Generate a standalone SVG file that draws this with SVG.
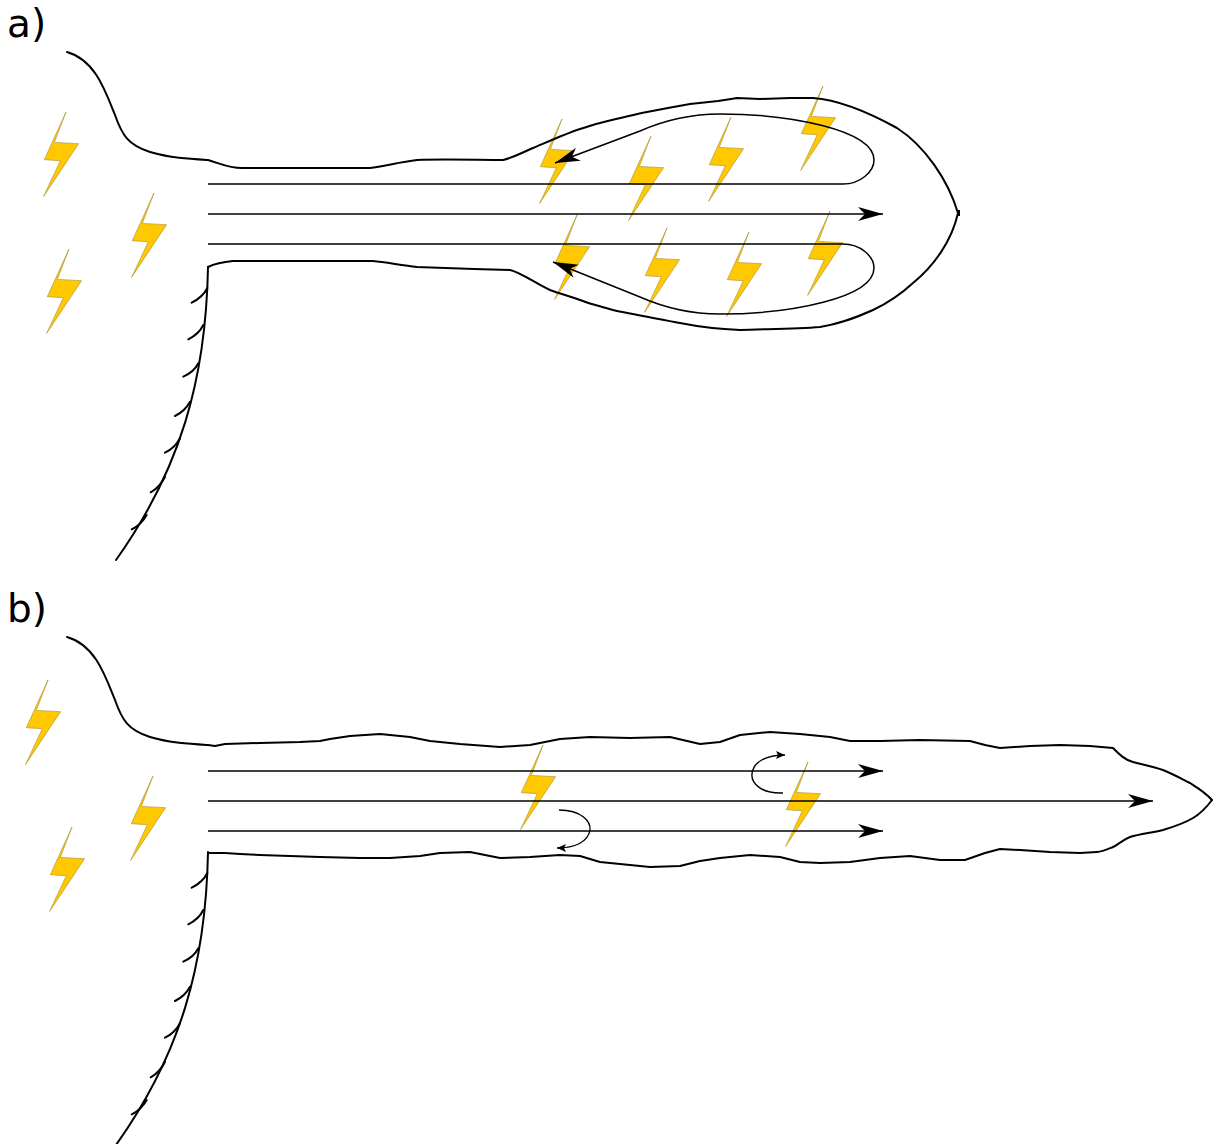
<svg xmlns="http://www.w3.org/2000/svg" width="1213" height="1144" viewBox="0 0 1213 1144">
  <style>
    .label { font-family: "DejaVu Sans", sans-serif; font-size: 39px; fill: #000; }
    .outline { fill: none; stroke: #000; stroke-width: 2; stroke-linejoin: round; stroke-linecap: round; }
    .flow { fill: none; stroke: #000; stroke-width: 1.5; }
    .curl { fill: none; stroke: #000; stroke-width: 1.4; }
    .bolt { fill: #ffc800; stroke: #b39a3c; stroke-width: 0.7; stroke-linejoin: miter; }
  </style>
  <defs>
    <!-- lightning bolt, anchored at its top tip -->
    <path id="bolt" d="M0,0 L-21.7,47.7 L-5.7,48.7 L-22.4,84.4 L12.6,31.7 L-11.7,30.4 Z"/>
    <marker id="stealth" markerUnits="userSpaceOnUse" viewBox="-26 -8 27 16" refX="0" refY="0" markerWidth="27" markerHeight="16" orient="auto">
      <path d="M0,0 L-25,-7 L-18,0 L-25,7 Z" fill="#000"/>
    </marker>
    <marker id="small" markerUnits="userSpaceOnUse" viewBox="-10 -5 11 10" refX="0" refY="0" markerWidth="11" markerHeight="10" orient="auto">
      <path d="M0,0 L-9,-4 L-7,0 L-9,4 Z" fill="#000"/>
    </marker>
    <!-- wall with barbs -->
    <g id="wall">
      <path class="outline" d="M208,267 C206,380 180,470 116,560"/>
      <path class="outline" d="M207.3,288 Q203,297 191.7,302.7"/>
      <path class="outline" d="M203.3,325 Q199,334 188.3,339.3"/>
      <path class="outline" d="M198.3,363.3 Q194,372 183.3,376.7"/>
      <path class="outline" d="M190,401.7 Q185,411 175,416"/>
      <path class="outline" d="M180,438.3 Q175,448 165,452.7"/>
      <path class="outline" d="M165,476.7 Q160,487 150.7,492.3"/>
      <path class="outline" d="M146.7,515 Q141,525 131.7,529.3"/>
    </g>
  </defs>

  <text class="label" x="7" y="37">a)</text>
  <text class="label" x="7" y="622">b)</text>

  <!-- a) lightning -->
  <g id="bolts-a">
    <use href="#bolt" class="bolt" x="66" y="112"/>
    <use href="#bolt" class="bolt" x="154" y="193"/>
    <use href="#bolt" class="bolt" x="69" y="249"/>
    <use href="#bolt" class="bolt" x="562" y="119"/>
    <use href="#bolt" class="bolt" x="651" y="136"/>
    <use href="#bolt" class="bolt" x="731" y="117"/>
    <use href="#bolt" class="bolt" x="823" y="86"/>
    <use href="#bolt" class="bolt" x="577" y="215"/>
    <use href="#bolt" class="bolt" x="667" y="228"/>
    <use href="#bolt" class="bolt" x="749" y="232"/>
    <use href="#bolt" class="bolt" x="830" y="211"/>
  </g>

  <!-- a) channel with bulb -->
  <g id="channel-a">
    <path class="outline" d="M67,52 C95,60 105,90 115,115 C122,135 128,145 150,152 C170,158 190,159 208,160 C222,164 228,168 242,168 L370,168 C385,166 400,162 417,160 C440,159 480,160 503,160 C515,157 523,152 533,148 C545,143 565,134 580,129 C590,126 595,124 600,123 C620,118 632,115 647,112 L668,108 L690,104 L718,101 L731,99 L737,98 L760,99 L790,98 L813,98 C840,100 868,112 897,128 C925,146 948,180 958,213"/>
    <path class="outline" d="M958,213 C952,240 935,265 913,283 C900,295 890,302 873,310 C855,318 840,324 820,327 C795,329 765,329 740,330 C715,329 690,325 680,323 C660,319 630,314 613,310 C600,306 590,304 583,301 C570,296 560,294 550,290 C535,283 520,272 510,270 C480,269 440,268 417,267 C400,265 385,262 373,261 L233,261 C222,262 214,264 208,267"/>
    <rect x="957" y="210" width="3" height="6" fill="#000"/>
    <use href="#wall"/>
  </g>

  <!-- a) flow -->
  <g id="flow-a">
    <path class="flow" d="M208,184 L843,184 C860,184 874,172 874,160 C874,130 790,114 720,114 C690,114 665,120 640,131 L555,163" marker-end="url(#stealth)"/>
    <path class="flow" d="M208,214 L883,214" marker-end="url(#stealth)"/>
    <path class="flow" d="M208,244 L843,244 C860,244 874,256 874,268 C874,298 790,314 720,314 C690,314 665,308 640,297 L553,262" marker-end="url(#stealth)"/>
  </g>

  <!-- b) lightning -->
  <g id="bolts-b">
    <use href="#bolt" class="bolt" x="48" y="680"/>
    <use href="#bolt" class="bolt" x="153" y="776"/>
    <use href="#bolt" class="bolt" x="72" y="827"/>
    <use href="#bolt" class="bolt" x="543" y="745"/>
    <use href="#bolt" class="bolt" x="808" y="762"/>
  </g>

  <!-- b) elongated channel -->
  <g id="channel-b">
    <path class="outline" d="M67,637 C95,645 105,675 115,700 C122,720 128,730 150,737 C170,743 190,744 208,745 L215,746 L225,744 L260,743 L300,742 L320,741 L330,739 L350,736 L380,734 L410,737 L430,741 L460,744 L500,747 L530,745 L560,739 L590,737 L630,738 L670,737 L700,744 L720,742 L740,735 L770,732 L800,734 L830,737 L850,741 L880,741 L920,740 L970,741 L985,745 L1000,748 L1030,746 L1060,745 L1090,746 L1113,748 C1120,755 1125,760 1133,762 C1145,765 1155,767 1163,770 C1175,775 1182,779 1190,783 C1198,788 1205,792 1212,800"/>
    <path class="outline" d="M1212,800 C1206,808 1200,814 1193,818 C1183,824 1173,827 1163,830 C1150,833 1140,834 1130,837 C1122,840 1118,845 1113,847 C1106,850 1102,852 1097,852 L1080,853 L1050,852 L1020,850 L1000,849 L985,853 L965,860 L940,860 L910,856 L880,858 L850,862 L820,863 L800,862 L780,857 L750,855 L720,858 L700,861 L680,866 L650,867 L620,864 L600,862 L580,856 L560,855 L530,857 L500,858 L470,852 L440,853 L420,856 L390,858 L360,858 L320,857 L290,856 L260,855 L240,854 L225,853 L208,853"/>
    <use href="#wall" y="585"/>
  </g>

  <!-- b) flow -->
  <g id="flow-b">
    <path class="flow" d="M208,771 L883,771" marker-end="url(#stealth)"/>
    <path class="flow" d="M208,801 L1153,801" marker-end="url(#stealth)"/>
    <path class="flow" d="M208,831 L883,831" marker-end="url(#stealth)"/>
    <path class="curl" d="M559,810 C582,810 591,822 590,830 C588,842 575,848 557,848" marker-end="url(#small)"/>
    <path class="curl" d="M783,793 C760,794 751,782 752,774 C753,762 766,755 785,755" marker-end="url(#small)"/>
  </g>
</svg>
